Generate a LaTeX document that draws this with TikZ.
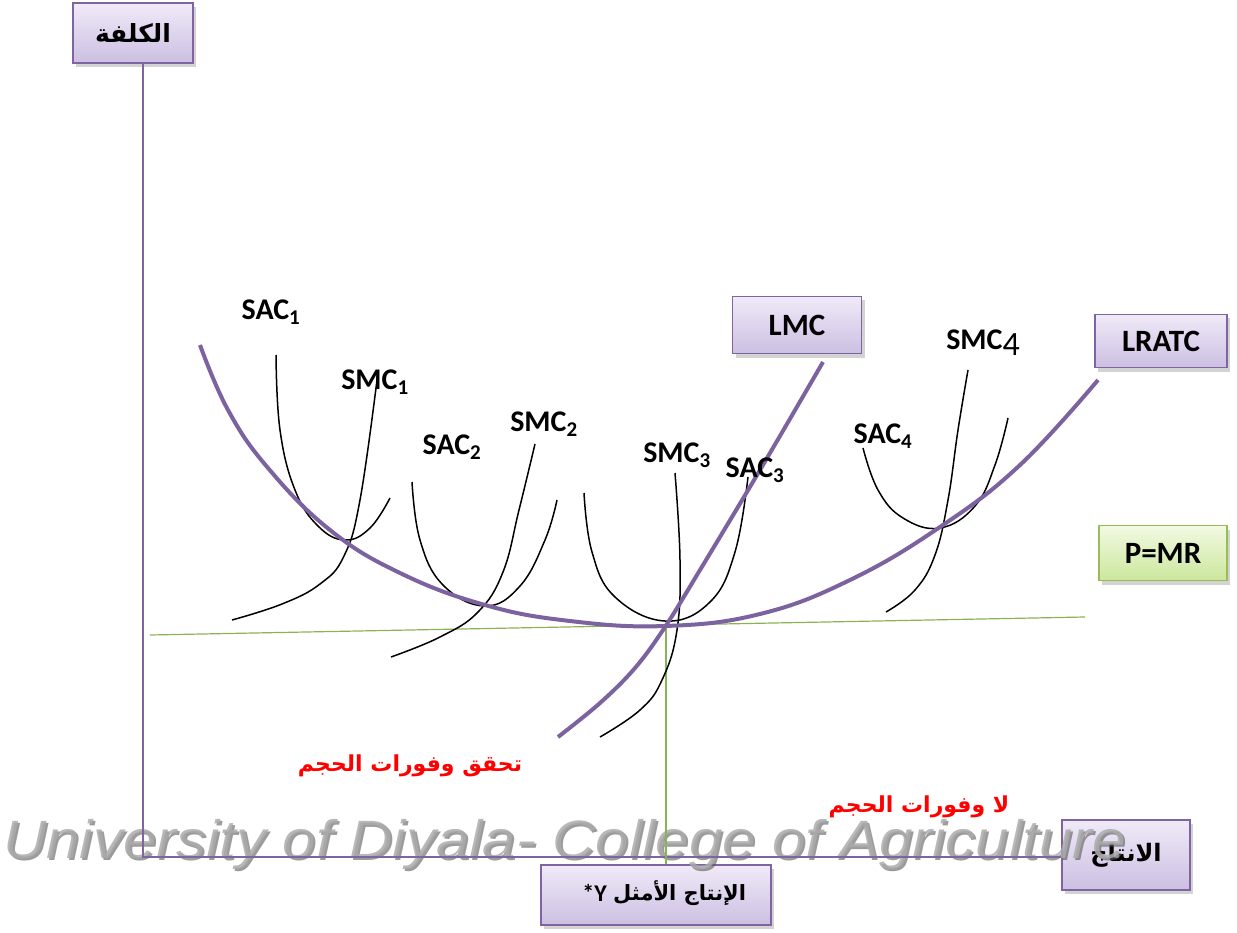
\documentclass[tikz,border=0pt]{standalone}
\usepackage{fontspec}
\setmainfont{Carlito}
\newfontfamily\arabicfont[Script=Arabic]{DejaVu Sans}
\newfontfamily\wmfont{Liberation Sans}
\TeXXeTstate=1
\usetikzlibrary{shadows}
\definecolor{boxpurple}{HTML}{8064A2}
\definecolor{purtop}{HTML}{F0EAF8}
\definecolor{purbot}{HTML}{CCBFE2}
\definecolor{boxgreen}{HTML}{9BBB59}
\definecolor{grtop}{HTML}{F2F9E3}
\definecolor{grbot}{HTML}{CBE79C}
\definecolor{curvepurple}{HTML}{7D62A0}
\definecolor{axisgreen}{HTML}{8DB255}
\begin{document}
\begin{tikzpicture}[x=1pt,y=-1pt,
  pbox/.style={draw=boxpurple,line width=1.6pt,top color=purtop,bottom color=purbot,
    drop shadow={shadow xshift=3pt,shadow yshift=-4pt,opacity=0.35},
    inner sep=0pt,font=\fontsize{31}{34}\selectfont\bfseries},
  gbox/.style={draw=boxgreen,line width=1.6pt,top color=grtop,bottom color=grbot,
    drop shadow={shadow xshift=3pt,shadow yshift=-4pt,opacity=0.35},
    inner sep=0pt,font=\fontsize{31}{34}\selectfont\bfseries},
  lbl/.style={inner sep=0pt,font=\fontsize{30}{34}\selectfont\bfseries},
  artext/.style={inner sep=0pt,text=red,font=\fontsize{22}{26}\arabicfont\bfseries},
  axisline/.style={draw=boxpurple,line width=1.5pt},
  bigcurve/.style={draw=curvepurple,line width=4pt},
  thincurve/.style={draw=black,line width=1.5pt},
  mrline/.style={draw=axisgreen,line width=1.2pt},
  wmtext/.style={anchor=base west,inner sep=0pt,font=\fontsize{54}{60}\wmfont\itshape}]
\useasboundingbox (0,0) rectangle (1237,933);

% boxes
\node[pbox,minimum width=120pt,minimum height=60pt] (cost) at (133,33)
  {\fontsize{25}{30}\arabicfont\bfseries\beginR الكلفة\endR};
\node[pbox,minimum width=129pt,minimum height=57pt] (lmc) at (797,325) {LMC};
\node[pbox,minimum width=132pt,minimum height=53pt] (lratc) at (1161,341) {LRATC};
\node[gbox,minimum width=128pt,minimum height=55pt] (pmr) at (1163,553) {P=MR};
\node[pbox,minimum width=128pt,minimum height=70pt] (output) at (1126,855)
  {\fontsize{24}{30}\arabicfont\bfseries\beginR الانتاج\endR};
\node[pbox,minimum width=230pt,minimum height=60pt] (ystar) at (656,895) {};
\node[inner sep=0pt,anchor=east,font=\fontsize{24}{28}\selectfont\bfseries] (ystarY) at (607,893) {*Y};
\node[inner sep=0pt,anchor=west,font=\fontsize{21}{28}\arabicfont\bfseries] (ystarAr) at (613,893) {\beginR الإنتاج الأمثل\endR};

% watermark (semi-transparent, over the boxes)
\node[wmtext,text=black!65,opacity=0.6] (wmshadow) at (5,860) {\scalebox{1.11}[1]{University of Diyala- College of Agriculture}};
\node[wmtext,text=black!33,opacity=0.85] (wm) at (3,858) {\scalebox{1.11}[1]{University of Diyala- College of Agriculture}};

% axes
\coordinate (origin) at (143,857);
\draw[axisline] (origin |- cost.south) -- (origin) -- (output.west |- origin);

% P=MR line and Y* vertical
\coordinate (mrL) at (150,635);
\coordinate (mrR) at (1085,617);
\draw[mrline] (mrL) -- (mrR);
\coordinate (ytop) at (666,625);
\draw[mrline] (ytop) -- (ytop |- ystar.north);

% short-run curves
\draw[thincurve] plot[smooth,tension=0.7] coordinates {(276,355) (280,430) (295,490) (318,526) (345,540) (370,528) (390,498)};
\draw[thincurve] plot[smooth,tension=0.7] coordinates {(232,620) (282,604) (320,584) (344,556) (360,500) (377,380)};
\draw[thincurve] plot[smooth,tension=0.7] coordinates {(412,482) (420,540) (443,585) (485,606) (520,586) (545,540) (557,500)};
\draw[thincurve] plot[smooth,tension=0.7] coordinates {(391,657) (440,637) (478,612) (503,572) (519,510) (535,444)};
\draw[thincurve] plot[smooth,tension=0.7] coordinates {(584,493) (592,552) (615,597) (665,621) (710,602) (735,552) (748,477)};
\draw[thincurve] plot[smooth,tension=0.7] coordinates {(600,737) (640,710) (662,680) (677,630) (680,560) (675,473)};
\draw[thincurve] plot[smooth,tension=0.7] coordinates {(863,448) (878,490) (903,518) (940,528) (975,506) (995,465) (1008,418)};
\draw[thincurve] plot[smooth,tension=0.7] coordinates {(886,612) (915,590) (935,555) (948,500) (958,430) (968,370)};

% long-run curves
\draw[bigcurve] plot[smooth,tension=0.7] coordinates {(200,345) (228,410) (268,468) (330,530) (400,573) (485,605) (570,621) (665,626) (760,614) (850,580) (940,527) (1020,465) (1098,380)};
\draw[bigcurve] plot[smooth,tension=0.6] coordinates {(558,737) (600,703) (635,668) (665,627) (700,570) (760,470) (823,362)};

% curve labels
\node[lbl] (sac1) at (271,312) {SAC\textsubscript{1}};
\node[lbl] (smc1) at (375,382) {SMC\textsubscript{1}};
\node[lbl] (sac2) at (452,447) {SAC\textsubscript{2}};
\node[lbl] (smc2) at (544,424) {SMC\textsubscript{2}};
\node[lbl] (smc3) at (677,455) {SMC\textsubscript{3}};
\node[lbl] (sac3) at (755,470) {SAC\textsubscript{3}};
\node[lbl] (sac4) at (883,436) {SAC\textsubscript{4}};
\node[lbl] (smc4) at (983,343) {SMC\raisebox{-6pt}{\fontsize{34}{36}\mdseries 4}};

% red Arabic texts
\node[artext] (eco) at (410,766) {\beginR تحقق وفورات الحجم\endR};
\node[artext] (noeco) at (919,807) {\beginR لا وفورات الحجم\endR};
\end{tikzpicture}
\end{document}
